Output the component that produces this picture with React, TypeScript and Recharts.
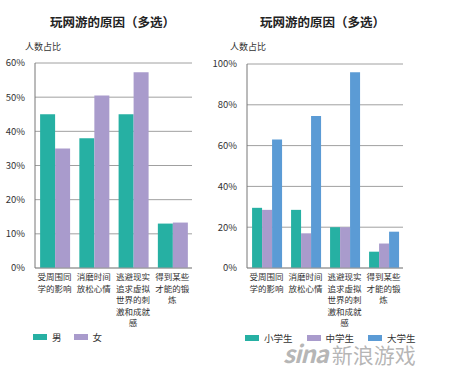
import React from "react";
import { BarChart, Bar, XAxis, YAxis, CartesianGrid } from "recharts";

const categories = [
  "受周围同学的影响",
  "消磨时间放松心情",
  "逃避现实追求虚拟世界的刺激和成就感",
  "得到某些才能的锻炼",
];
const male = [45, 38, 45, 13];
const female = [35, 50.5, 57.3, 13.3];
const primary = [29.5, 28.5, 20, 8];
const middle = [28.5, 17, 20, 12];
const college = [63, 74.5, 96, 17.8];

const leftTicks = [0, 10, 20, 30, 40, 50, 60];
const rightTicks = [0, 20, 40, 60, 80, 100];

const TEAL = "#26b0a3";
const PURPLE = "#a99bcc";
const BLUE = "#5b9bd5";
const FONT = "'Noto Sans CJK SC', 'Noto Sans', sans-serif";

const leftSeries = [
  { key: "男", color: TEAL },
  { key: "女", color: PURPLE },
];
const rightSeries = [
  { key: "小学生", color: TEAL },
  { key: "中学生", color: PURPLE },
  { key: "大学生", color: BLUE },
];

const leftData = categories.map((c, i) => ({ name: c, 男: male[i], 女: female[i] }));
const rightData = categories.map((c, i) => ({
  name: c,
  小学生: primary[i],
  中学生: middle[i],
  大学生: college[i],
}));

function WrapTick(props: any) {
  const { x, y, payload } = props;
  const s: string = payload.value;
  const lines: string[] = [];
  for (let i = 0; i < s.length; i += 4) lines.push(s.slice(i, i + 4));
  return (
    <text x={x} y={y} textAnchor="middle" fontSize={8.5} fill="#333" fontFamily={FONT}>
      {lines.map((l, i) => (
        <tspan key={i} x={x} dy={i === 0 ? 4 : 11.5}>
          {l}
        </tspan>
      ))}
    </text>
  );
}

function LegendRow({ items, left, top, gap }: { items: { key: string; color: string }[]; left: number; top: number; gap: number }) {
  return (
    <div
      style={{
        position: "absolute",
        left,
        top,
        display: "flex",
        alignItems: "center",
        fontFamily: FONT,
        fontSize: 9.5,
        color: "#333",
        lineHeight: "12px",
      }}
    >
      {items.map((p) => (
        <div key={p.key} style={{ display: "flex", alignItems: "center", marginRight: gap }}>
          <span style={{ width: 14, height: 6, background: p.color, display: "inline-block", marginRight: 5 }} />
          <span>{p.key}</span>
        </div>
      ))}
    </div>
  );
}

const Title = ({ left }: { left: number }) => (
  <div
    style={{
      position: "absolute",
      left,
      top: 12,
      width: 225,
      textAlign: "center",
      fontFamily: FONT,
      fontWeight: 700,
      fontSize: 12.5,
      color: "#222",
    }}
  >
    玩网游的原因（多选）
  </div>
);

export default function App() {
  return (
    <div style={{ position: "relative", width: 450, height: 369, background: "#fff", overflow: "hidden" }}>
      <style>{"body{margin:0}"}</style>
      <Title left={0} />
      <Title left={210} />
      <div style={{ position: "absolute", left: 25, top: 40, fontFamily: FONT, fontSize: 9, color: "#333" }}>人数占比</div>
      <div style={{ position: "absolute", left: 230, top: 40, fontFamily: FONT, fontSize: 9, color: "#333" }}>人数占比</div>

      <div style={{ position: "absolute", left: 0, top: 0 }}>
        <BarChart
          width={205}
          height={369}
          data={leftData}
          margin={{ top: 63, right: 13, left: 0, bottom: 71 }}
          barCategoryGap="13%"
          barGap={0}
        >
          <CartesianGrid vertical={false} stroke="#a0a0a0" />
          <XAxis dataKey="name" height={30} interval={0} tick={<WrapTick />} tickLine={false} axisLine={{ stroke: "#999" }} />
          <YAxis
            width={35}
            domain={[0, 60]}
            ticks={leftTicks}
            tickFormatter={(v) => `${v}%`}
            tick={{ fontSize: 9.5, fill: "#333", fontFamily: FONT }}
            tickLine={false}
            tickMargin={4}
            axisLine={{ stroke: "#777" }}
          />
          {leftSeries.map((s) => (
            <Bar key={s.key} dataKey={s.key} fill={s.color} isAnimationActive={false} />
          ))}
        </BarChart>
      </div>

      <div style={{ position: "absolute", left: 205, top: 0 }}>
        <BarChart
          width={245}
          height={369}
          data={rightData}
          margin={{ top: 64, right: 47, left: 0, bottom: 71 }}
          barCategoryGap="13%"
          barGap={0}
        >
          <CartesianGrid vertical={false} stroke="#a0a0a0" />
          <XAxis dataKey="name" height={30} interval={0} tick={<WrapTick />} tickLine={false} axisLine={{ stroke: "#999" }} />
          <YAxis
            width={42}
            domain={[0, 100]}
            ticks={rightTicks}
            tickFormatter={(v) => `${v}%`}
            tick={{ fontSize: 9.5, fill: "#333", fontFamily: FONT }}
            tickLine={false}
            tickMargin={4}
            axisLine={{ stroke: "#777" }}
          />
          {rightSeries.map((s) => (
            <Bar key={s.key} dataKey={s.key} fill={s.color} isAnimationActive={false} />
          ))}
        </BarChart>
      </div>

      <LegendRow items={leftSeries} left={33} top={331} gap={12} />
      <LegendRow items={rightSeries} left={245} top={332} gap={14} />

      <div
        style={{
          position: "absolute",
          left: 283,
          top: 340,
          fontFamily: FONT,
          color: "rgba(150,150,150,0.7)",
          whiteSpace: "nowrap",
          pointerEvents: "none",
          lineHeight: "26px",
        }}
      >
        <span style={{ fontSize: 24, fontStyle: "italic", fontWeight: 700, letterSpacing: -1 }}>sina</span>
        <span style={{ fontSize: 21, marginLeft: 4 }}>新浪游戏</span>
      </div>
    </div>
  );
}
